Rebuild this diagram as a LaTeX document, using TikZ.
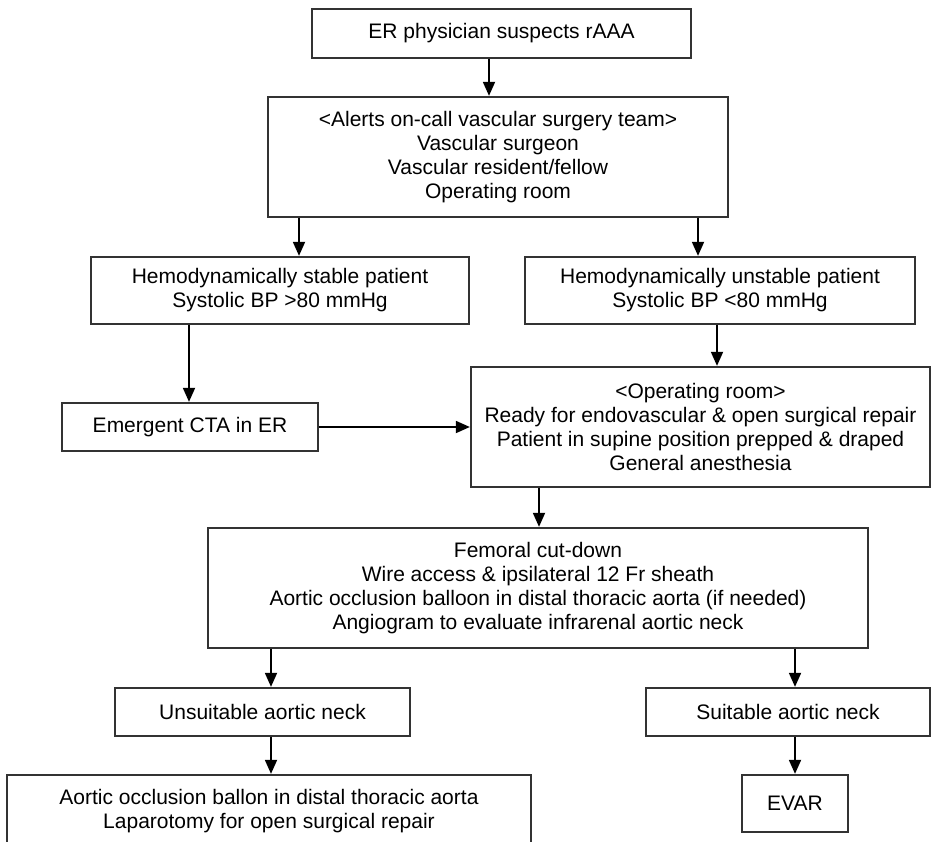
\documentclass[tikz,border=0pt]{standalone}
\usepackage{fontspec}
\setmainfont{Liberation Sans}
\usetikzlibrary{arrows.meta,calc}
\tikzset{
  box/.style={draw=black!80, line width=1.3pt, fill=white, align=center, inner sep=0pt,
    font=\fontsize{21}{24}\selectfont, text=black},
  arr/.style={line width=1.8pt, draw=black, -{Triangle[width=12pt,length=14pt]}, shorten >=0.5pt}
}
\begin{document}
\begin{tikzpicture}[x=1pt,y=-1pt]
\useasboundingbox[fill=white] (0,0) rectangle (933,842);
% boxes
\node[box, minimum width=379, minimum height=49] (b1) at (501.5,33.5) {ER physician suspects rAAA};
\node[box, minimum width=460, minimum height=120] (b2) at (498,157) {<Alerts on-call vascular surgery team>\\Vascular surgeon\\Vascular resident/fellow\\Operating room};
\node[box, minimum width=378, minimum height=67] (b3l) at (280,290.5) {Hemodynamically stable patient\\Systolic BP >80 mmHg};
\node[box, minimum width=390, minimum height=67] (b3r) at (720,290.5) {Hemodynamically unstable patient\\Systolic BP <80 mmHg};
\node[box, minimum width=256, minimum height=48] (cta) at (190,427) {Emergent CTA in ER};
\node[box, minimum width=459, minimum height=120] (orr) at (700.5,427) {<Operating room>\\Ready for endovascular \& open surgical repair\\Patient in supine position prepped \& draped\\General anesthesia};
\node[box, minimum width=660, minimum height=120] (fem) at (538,588) {Femoral cut-down\\Wire access \& ipsilateral 12 Fr sheath\\Aortic occlusion balloon in distal thoracic aorta (if needed)\\Angiogram to evaluate infrarenal aortic neck};
\node[box, minimum width=295, minimum height=48] (uns) at (262.5,712) {Unsuitable aortic neck};
\node[box, minimum width=284, minimum height=48] (sui) at (788,712) {Suitable aortic neck};
\node[box, minimum width=524, minimum height=72] (bl) at (269,811) {Aortic occlusion ballon in distal thoracic aorta\\Laparotomy for open surgical repair};
\node[box, minimum width=106, minimum height=57] (evar) at (795,803.5) {EVAR};
% arrow anchor columns
\coordinate (c1) at (489,0);
\coordinate (c2) at (299,0);
\coordinate (c3) at (698,0);
\coordinate (c4) at (189,0);
\coordinate (c5) at (717,0);
\coordinate (c6) at (539,0);
\coordinate (c7) at (271,0);
\coordinate (c8) at (795,0);
% connectors
\draw[arr] (b1.south -| c1) -- (b2.north -| c1);
\draw[arr] (b2.south -| c2) -- (b3l.north -| c2);
\draw[arr] (b2.south -| c3) -- (b3r.north -| c3);
\draw[arr] (b3l.south -| c4) -- (cta.north -| c4);
\draw[arr] (cta.east) -- (cta.east -| orr.west);
\draw[arr] (b3r.south -| c5) -- (orr.north -| c5);
\draw[arr] (orr.south -| c6) -- (fem.north -| c6);
\draw[arr] (fem.south -| c7) -- (uns.north -| c7);
\draw[arr] (fem.south -| c8) -- (sui.north -| c8);
\draw[arr] (uns.south -| c7) -- (bl.north -| c7);
\draw[arr] (sui.south -| c8) -- (evar.north -| c8);
\end{tikzpicture}
\end{document}
